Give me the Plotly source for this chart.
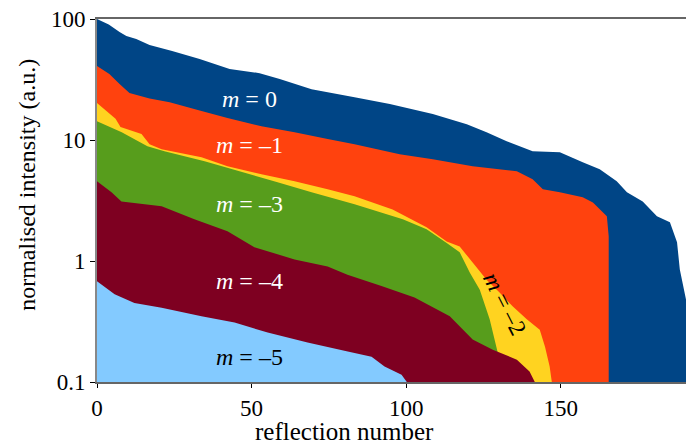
import math
import plotly.graph_objects as go

# Sorted reflection intensities for each order m (normalised, arbitrary units)
m0_x = [0, 3.8, 7.3, 9.5, 12.7, 17.0, 24.3, 33.2, 42.9, 52.6, 59.1, 69.4, 83.3, 94.7, 108.6, 119.6,
        126.0, 132.5, 140.9, 149.7, 157.1, 162.6, 168.1, 171.4, 176.5, 181.1, 185.3, 187.6, 188.5,
        189.5, 190.5]
m0_y = [100, 90, 78, 72.3, 68.5, 60.9, 54.3, 46.7, 38.6, 35.7, 31.9, 26.3, 22.6, 19.8, 16.4, 13.5,
        11.6, 9.78, 8.08, 7.93, 6.55, 5.73, 4.56, 3.70, 3.11, 2.34, 2.09, 1.43, 0.85, 0.62, 0.48]

m1_x = [0, 4.0, 7.3, 10.5, 17.0, 23.5, 33.2, 42.2, 53.2, 63.9, 74.6, 83.3, 97.9, 108.6, 121.5,
        135.8, 140.9, 144.2, 149.7, 157.1, 160.4, 162.6, 164.9, 165.5]
m1_y = [40.8, 35.1, 29.0, 24.5, 22.0, 20.5, 17.5, 15.2, 13.0, 11.6, 10.2, 9.23, 7.63, 6.93, 6.07,
        5.52, 4.73, 3.92, 3.70, 3.36, 3.05, 2.67, 2.34, 1.60]

m2_x = [0, 3.4, 6.0, 7.6, 10.5, 14.4, 17.0, 20.9, 33.8, 42.2, 53.2, 63.9, 74.6, 83.3, 95.6, 106.6,
        113.1, 117.3, 121.5, 126.0, 130.2, 134.5, 139.0, 143.2, 144.9, 146.4, 147.1]
m2_y = [20.2, 17.0, 15.0, 12.8, 12.1, 11.2, 9.23, 8.39, 7.21, 6.07, 5.21, 4.56, 3.92, 3.43, 2.67,
        1.90, 1.45, 1.32, 0.97, 0.70, 0.55, 0.42, 0.33, 0.27, 0.196, 0.134, 0.10]

m3_x = [0, 8.0, 16.3, 21.8, 34.8, 47.7, 58.4, 69.4, 83.3, 98.9, 106.6, 113.1, 117.3, 120.6,
        123.8, 127.0, 129.6, 131.8]
m3_y = [14.3, 11.6, 8.89, 8.08, 6.68, 5.41, 4.48, 3.70, 2.94, 2.21, 1.83, 1.41, 1.18, 0.80,
        0.58, 0.33, 0.175, 0.115]

m4_x = [0, 4.7, 7.9, 20.9, 31.5, 42.2, 50.9, 63.9, 74.6, 81.0, 92.0, 102.7, 114.1, 121.5,
        128.0, 135.8, 139.9, 141.6]
m4_y = [4.56, 3.70, 3.11, 2.83, 2.21, 1.76, 1.30, 1.03, 0.90, 0.77, 0.62, 0.50, 0.35, 0.224,
        0.185, 0.153, 0.122, 0.10]

m5_x = [0, 5.7, 12.1, 20.9, 33.8, 44.5, 55.2, 68.1, 81.1, 88.8, 93.0, 98.5, 100.2]
m5_y = [0.68, 0.53, 0.45, 0.41, 0.35, 0.31, 0.256, 0.212, 0.179, 0.162, 0.134, 0.115, 0.10]

series = [
    (m0_x, m0_y, "#004586"),
    (m1_x, m1_y, "#ff420e"),
    (m2_x, m2_y, "#ffd320"),
    (m3_x, m3_y, "#579d1c"),
    (m4_x, m4_y, "#7e0021"),
    (m5_x, m5_y, "#83caff"),
]

# In-plot labels: text, x, y (intensity), colour, angle
label_text = ["<i>m</i> = 0", "<i>m</i> = –1", "<i>m</i> = –3", "<i>m</i> = –4", "<i>m</i> = –5", "<i>m</i> = –2"]
label_x = [49.4, 49.4, 49.4, 49.4, 49.4, 131.9]
label_y = [21.8, 9.06, 2.94, 0.68, 0.162, 0.44]
label_color = ["white", "white", "white", "white", "black", "black"]
label_angle = [0, 0, 0, 0, 0, 63]

SERIF = "'Liberation Serif', 'Times New Roman', 'DejaVu Serif', serif"

fig = go.Figure()
for xs, ys, col in series:
    fig.add_trace(go.Scatter(
        x=xs, y=ys, mode="lines", fill="tozeroy",
        line=dict(width=0, color=col), fillcolor=col,
        hoverinfo="skip", showlegend=False,
    ))

for t, x, y, c, a in zip(label_text, label_x, label_y, label_color, label_angle):
    # annotation positions on a log axis are given in log10 units
    fig.add_annotation(x=x, y=math.log10(y), yref="y", xref="x", text=t, showarrow=False,
                       textangle=a, font=dict(family=SERIF, size=24, color=c))

# Axis titles, placed in paper coordinates
fig.add_annotation(x=0.421, y=-0.137, xref="paper", yref="paper", text="reflection number",
                   showarrow=False, xanchor="center", yanchor="middle",
                   font=dict(family=SERIF, size=25, color="black"))
fig.add_annotation(x=-0.119, y=0.543, xref="paper", yref="paper",
                   text="normalised intensity (a.u.)", textangle=-90,
                   showarrow=False, xanchor="center", yanchor="middle",
                   font=dict(family=SERIF, size=24, color="black"))

tick_font = dict(family=SERIF, size=23, color="black")
fig.update_layout(
    width=686, height=445,
    margin=dict(l=97, r=0, t=19, b=63),
    paper_bgcolor="white", plot_bgcolor="white",
    font=tick_font,
    xaxis=dict(
        range=[0, 190.5], tickvals=[0, 50, 100, 150], ticks="outside", ticklen=4,
        tickcolor="black", showgrid=False, zeroline=False, automargin=False,
        showline=True, linecolor="#666666", linewidth=2, mirror=True,
        tickfont=tick_font,
    ),
    yaxis=dict(
        type="log", range=[-1, 2], tickvals=[0.1, 1, 10, 100],
        ticktext=["0.1", "1", "10", "100"], ticks="outside", ticklen=5,
        tickcolor="black", showgrid=False, zeroline=False, automargin=False,
        showline=True, linecolor="#888888", linewidth=2,
        tickfont=tick_font,
    ),
)

fig.write_html("out.html")
